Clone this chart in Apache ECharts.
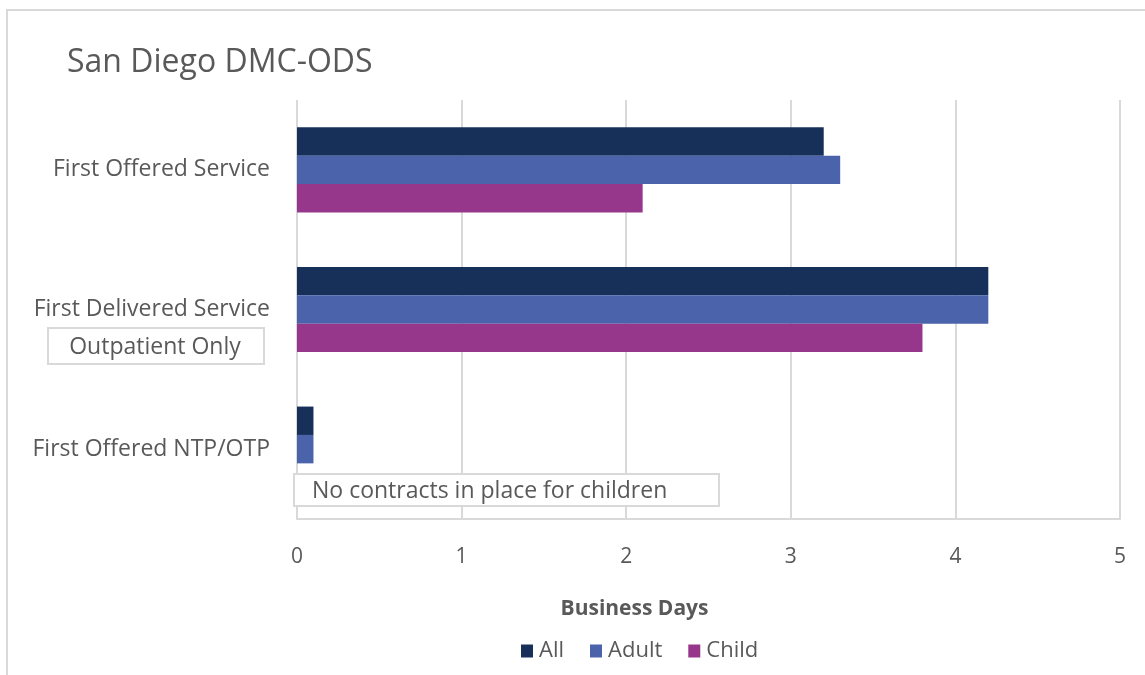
<!DOCTYPE html>
<html>
<head>
<meta charset="utf-8">
<script src="https://cdn.jsdelivr.net/npm/echarts@6/dist/echarts.min.js"></script>
<style>
html,body{margin:0;padding:0;background:#fff;}
#main{width:1145px;height:675px;}
</style>
</head>
<body>
<div id="main"></div>
<script>
var categories = ['First Offered Service', 'First Delivered Service', 'First Offered NTP/OTP'];
var seriesNames = ['All', 'Adult', 'Child'];
var allValues = [3.2, 4.2, 0.1];
var adultValues = [3.3, 4.2, 0.1];
var childValues = [2.1, 3.8, null];
var xTicks = [0, 1, 2, 3, 4, 5];
var titleText = 'San Diego DMC-ODS';
var axisTitle = 'Business Days';
var note1 = 'Outpatient Only';
var note2 = 'No contracts in place for children';

var FONT = '"Open Sans", "Noto Sans", sans-serif';
var TXT = '#595959';
var GRID = '#d9d9d9';
var colors = ['#17305a', '#4a63ab', '#97378b'];

var chart = echarts.init(document.getElementById('main'));
var values = [allValues, adultValues, childValues];

chart.setOption({
  animation: false,
  textStyle: { fontFamily: FONT },
  title: {
    text: titleText, left: 62, top: 42,
    textStyle: { fontFamily: FONT, fontSize: 32, fontWeight: 'normal', color: TXT }
  },
  legend: {
    data: seriesNames, top: 635, left: 516,
    itemWidth: 12, itemHeight: 13, itemGap: 26,
    icon: 'rect',
    textStyle: { fontFamily: FONT, fontSize: 22, color: TXT, padding: [0, 0, 0, 1] }
  },
  grid: { left: 297, right: 25, top: 100, bottom: 156, containLabel: false },
  xAxis: {
    type: 'value', min: 0, max: 5, interval: 1,
    name: axisTitle, nameLocation: 'middle', nameGap: 80,
    nameTextStyle: { fontFamily: FONT, fontSize: 21, fontWeight: 'bold', color: TXT, padding: [0, 148, 0, 0] },
    axisLine: { show: true, lineStyle: { color: GRID, width: 2 } },
    axisTick: { show: false },
    axisLabel: { fontFamily: FONT, fontSize: 21, color: TXT, margin: 28,
      formatter: function (v) { return xTicks.indexOf(v) >= 0 ? String(v) : ''; } },
    splitLine: { show: true, lineStyle: { color: GRID, width: 2 } }
  },
  yAxis: {
    type: 'category', data: categories, inverse: true,
    axisLine: { show: false }, axisTick: { show: false },
    axisLabel: { fontFamily: FONT, fontSize: 23, color: TXT, margin: 27 }
  },
  series: seriesNames.map(function (n, i) {
    return {
      name: n, type: 'bar', data: values[i],
      barGap: 0, barCategoryGap: '39%',
      itemStyle: { color: colors[i] }
    };
  }),
  graphic: [
    { type: 'rect', shape: { x: 7, y: 10, width: 1200, height: 720 }, style: { fill: 'none', stroke: GRID, lineWidth: 2 }, silent: true, z: -10 },
    { type: 'rect', shape: { x: 48, y: 328, width: 216, height: 36 }, style: { fill: '#fff', stroke: GRID, lineWidth: 2 }, z: 10 },
    { type: 'text', x: 155, y: 347, style: { text: note1, fontFamily: FONT, fontSize: 23, fill: TXT, align: 'center', verticalAlign: 'middle' }, z: 11 },
    { type: 'rect', shape: { x: 294, y: 474, width: 425, height: 32 }, style: { fill: '#fff', stroke: GRID, lineWidth: 2 }, z: 10 },
    { type: 'text', x: 312, y: 491, style: { text: note2, fontFamily: FONT, fontSize: 23, fill: TXT, align: 'left', verticalAlign: 'middle' }, z: 11 }
  ]
});
</script>
</body>
</html>
